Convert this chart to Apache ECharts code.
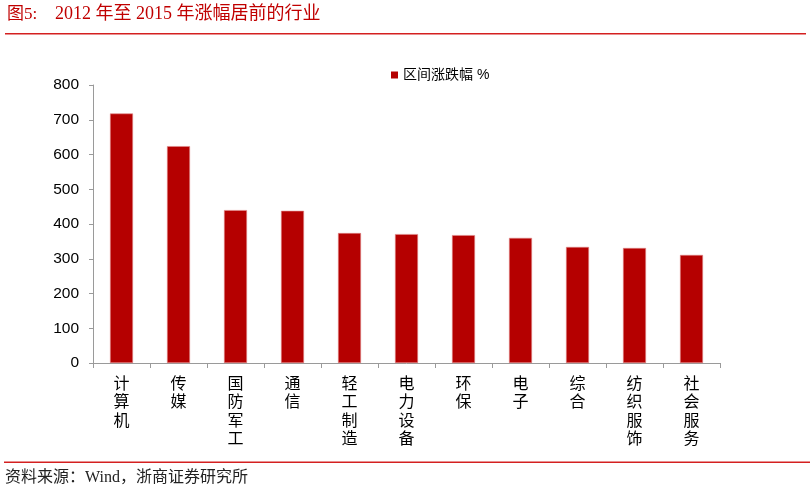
<!DOCTYPE html>
<html><head><meta charset="utf-8">
<script src="https://cdn.jsdelivr.net/npm/echarts@6/dist/echarts.min.js"></script>
<style>html,body{margin:0;padding:0;background:#fff}#c{width:812px;height:492px}</style>
</head><body><div id="c"></div>
<script>
const categories = ['计算机','传媒','国防军工','通信','轻工制造','电力设备','环保','电子','综合','纺织服饰','社会服务'];
const values = [718, 624, 440, 438, 374, 371, 368, 360, 334, 331, 311];
const seriesName = '区间涨跌幅 %';
const yMin = 0, yMax = 800, yInterval = 100;
const titleLabel = '图5:';
const titleText = '2012 年至 2015 年涨幅居前的行业';
const sourceText = '资料来源：Wind，浙商证券研究所';

const red = '#b50000';
const serif = '"Liberation Serif", "Noto Sans CJK SC", serif';
const sans = '"Liberation Sans", "Noto Sans CJK SC", sans-serif';

const chart = echarts.init(document.getElementById('c'), null, {renderer: 'canvas'});
chart.setOption({
  backgroundColor: '#fff',
  animation: false,
  grid: {left: 93, right: 92, top: 85, bottom: 129, containLabel: false},
  legend: {
    data: [seriesName], left: 386, top: 63, icon: 'rect',
    itemWidth: 7, itemHeight: 7, itemGap: 10,
    itemStyle: {borderWidth: 0, color: red},
    textStyle: {fontFamily: sans, fontSize: 14, color: '#000'}
  },
  xAxis: {
    type: 'category', data: categories, boundaryGap: true,
    axisLine: {lineStyle: {color: '#9a9a9a', width: 1}},
    axisTick: {show: true, length: 5, lineStyle: {color: '#9a9a9a'}},
    axisLabel: {
      interval: 0, margin: 12, color: '#000', fontFamily: sans, fontSize: 16, lineHeight: 18.5,
      verticalAlign: 'top',
      formatter: v => v.split('').join('\n')
    }
  },
  yAxis: {
    type: 'value', min: yMin, max: yMax, interval: yInterval,
    splitLine: {show: false},
    axisLine: {show: true, lineStyle: {color: '#9a9a9a', width: 1}},
    axisTick: {show: true, length: 4, lineStyle: {color: '#9a9a9a'}},
    axisLabel: {margin: 14, color: '#000', fontFamily: sans, fontSize: 15.5}
  },
  series: [{
    name: seriesName, type: 'bar', data: values, barWidth: 23,
    itemStyle: {color: red, borderColor: '#e08a8a', borderWidth: 0.6}
  }],
  graphic: [
    {type: 'text', left: 7, top: 6, style: {text: titleLabel, fill: '#c00000', font: '17px ' + serif}},
    {type: 'text', left: 55, top: 5, style: {text: titleText, fill: '#c00000', font: '18px ' + serif}},
    {type: 'rect', shape: {x: 5, y: 33, width: 801, height: 1.5}, style: {fill: '#d42020'}},
    {type: 'rect', shape: {x: 4, y: 461.5, width: 806, height: 1.5}, style: {fill: '#d42020'}},
    {type: 'text', left: 5, top: 470, style: {text: sourceText, fill: '#222', font: '16px ' + serif}}
  ]
});
</script></body></html>
